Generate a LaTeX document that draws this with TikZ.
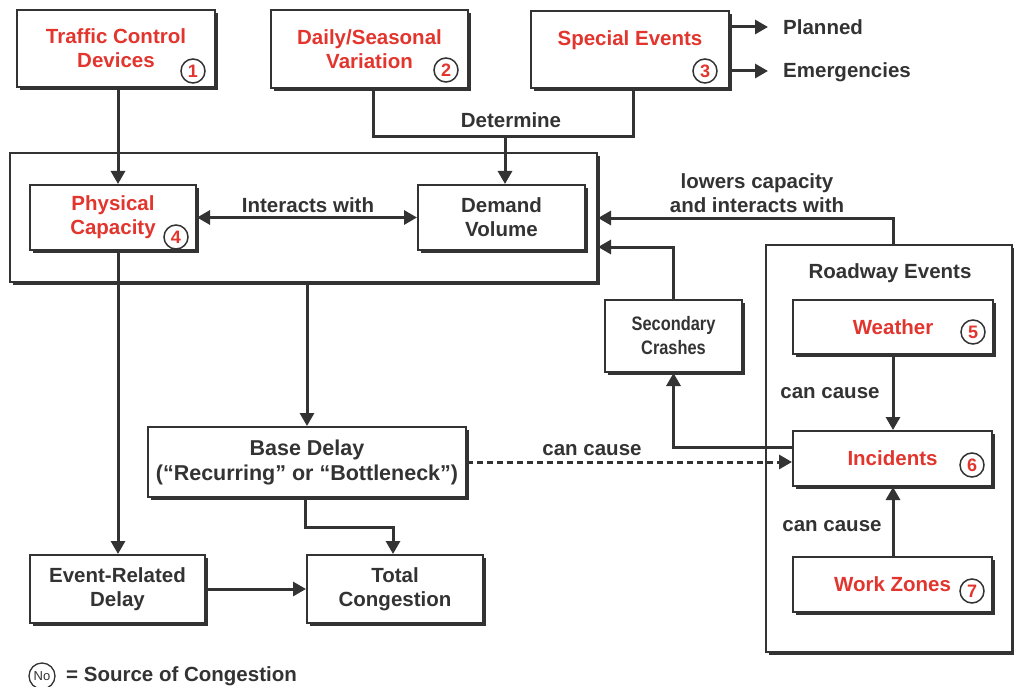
\documentclass[tikz,border=0pt]{standalone}
\usepackage{fontspec}
\setmainfont{Liberation Sans}
\usetikzlibrary{arrows.meta,shadows,calc}
\definecolor{lc}{HTML}{333333}
\definecolor{tc}{HTML}{333333}
\definecolor{rc}{HTML}{E2352E}
\begin{document}
\begin{tikzpicture}[x=1pt,y=-1pt,
 box/.style={draw=lc, line width=2pt, fill=white,
   drop shadow={shadow xshift=3pt,shadow yshift=-3pt,fill=lc,opacity=1},
   align=center, inner sep=0pt, text=tc,
   font=\bfseries\fontsize{20.5}{24}\selectfont},
 redtext/.style={text=rc},
 num/.style={circle, draw=lc, line width=1.5pt, inner sep=0pt, minimum size=24pt,
   text=rc, font=\bfseries\fontsize{18}{18}\selectfont},
 conn/.style={draw=lc, line width=3pt},
 arr/.style={conn, -{Triangle[length=13pt,width=14pt]}},
 darr/.style={conn, {Triangle[length=13pt,width=14pt]}-{Triangle[length=13pt,width=14pt]}},
 lbl/.style={text=tc, font=\bfseries\fontsize{20.5}{24}\selectfont, align=center, inner sep=0pt}
]
\useasboundingbox[fill=white] (0,0) rectangle (1014,687);

% containers
\node[box, minimum width=587pt, minimum height=129pt] (outer) at (303.5,217.5) {};
\node[box, minimum width=246pt, minimum height=407pt] (re) at (889,448.5) {};
\node[lbl] (retitle) at (890,273) {Roadway Events};

% top boxes
\node[box, redtext, minimum width=198pt, minimum height=77pt] (b1) at (116,48.5) {Traffic Control\\Devices};
\node[box, redtext, minimum width=197pt, minimum height=78pt] (b2) at (369.5,49) {Daily/Seasonal\\Variation};
\node[box, redtext, minimum width=198pt, minimum height=77pt] (b3) at (630,49.5) {Special Events\\[-2pt]\mbox{}};

% inner boxes
\node[box, redtext, minimum width=166pt, minimum height=65pt] (pc) at (113,217.5) {Physical\\Capacity};
\node[box, minimum width=167pt, minimum height=65pt] (dv) at (501.5,217.5) {Demand\\Volume};

% delay boxes
\node[box, minimum width=318pt, minimum height=70pt, font=\bfseries\fontsize{21.5}{25}\selectfont] (bd) at (307,462) {Base Delay\\(“Recurring” or “Bottleneck”)};
\node[box, minimum width=175pt, minimum height=68pt] (erd) at (117.5,589) {Event-Related\\Delay};
\node[box, minimum width=176pt, minimum height=68pt] (tc) at (395,589) {Total\\Congestion};

% right side
\node[box, minimum width=137pt, minimum height=72pt, font=\bfseries\fontsize{19.5}{24}\selectfont\addfontfeature{FakeStretch=0.84}] (sc) at (673.5,336) {Secondary\\Crashes};
\node[box, redtext, minimum width=200pt, minimum height=54pt] (w) at (893,327) {Weather};
\node[box, redtext, minimum width=199pt, minimum height=55pt] (inc) at (892.5,458.5) {Incidents};
\node[box, redtext, minimum width=199pt, minimum height=55pt] (wz) at (892.5,584.5) {Work Zones};

% numbers
\node[num] (n1) at (193,71) {1};
\node[num] (n2) at (446,70) {2};
\node[num] (n3) at (705,71) {3};
\node[num] (n4) at (176,237) {4};
\node[num] (n5) at (973,332) {5};
\node[num] (n6) at (972,465) {6};
\node[num] (n7) at (972,591) {7};

% helper coordinates
\coordinate (j) at (505,137);
\coordinate (y218) at (0,218);
\coordinate (y247) at (0,247);
\coordinate (y447) at (0,447);
\coordinate (y527) at (0,527);
\coordinate (pl) at (768,27);
\coordinate (em) at (768,71);

% special events outputs
\draw[arr] (b3.east |- pl) -- (pl);
\draw[arr] (b3.east |- em) -- (em);
\node[lbl, anchor=west] (planned) at (783,27) {Planned};
\node[lbl, anchor=west] (emerg) at (783,72) {Emergencies};

% determine
\draw[conn] (b2.south -| 373,0) |- (j) -| (b3.south -| 633,0);
\draw[arr] (j) -- (j |- dv.north);
\node[lbl] (det) at (511,120) {Determine};

% flows
\draw[arr] (b1.south -| 118,0) -- (pc.north -| 118,0);
\draw[darr] (pc.east) -- (dv.west);
\node[lbl] (iw) at (308,205) {Interacts with};
\draw[arr] (pc.south -| 118,0) -- (erd.north -| 118,0);
\draw[arr] (outer.south -| 307,0) -- (bd.north -| 307,0);
\draw[arr] (bd.south -| 305,0) -- (y527 -| 305,0) -| (tc.north -| 393,0);
\draw[arr] (erd.east) -- (tc.west);
\draw[arr, dash pattern=on 6pt off 4pt] (bd.east) -- (bd.east -| inc.west);
\node[lbl] (cc1) at (592,450) {can cause};

% right side connectors
\draw[arr] (inc.west |- y447) -| (sc.south);
\draw[arr] (sc.north) |- (outer.east |- y247);
\draw[arr] (re.north -| w.south) |- (outer.east |- y218);
\node[lbl] (lc1) at (757,193) {lowers capacity\\and interacts with};
\draw[arr] (w.south) -- (inc.north -| w.south);
\node[lbl] (cc2) at (830,393) {can cause};
\draw[arr] (wz.north -| w.south) -- (inc.south -| w.south);
\node[lbl] (cc3) at (832,526) {can cause};

% legend
\node[circle, draw=lc, line width=1.3pt, minimum size=26pt, inner sep=0pt, text=tc, font=\fontsize{13}{13}\selectfont] (leg) at (42,676) {No};
\node[lbl, anchor=west] (legt) at (66,676) {= Source of Congestion};
\end{tikzpicture}
\end{document}
